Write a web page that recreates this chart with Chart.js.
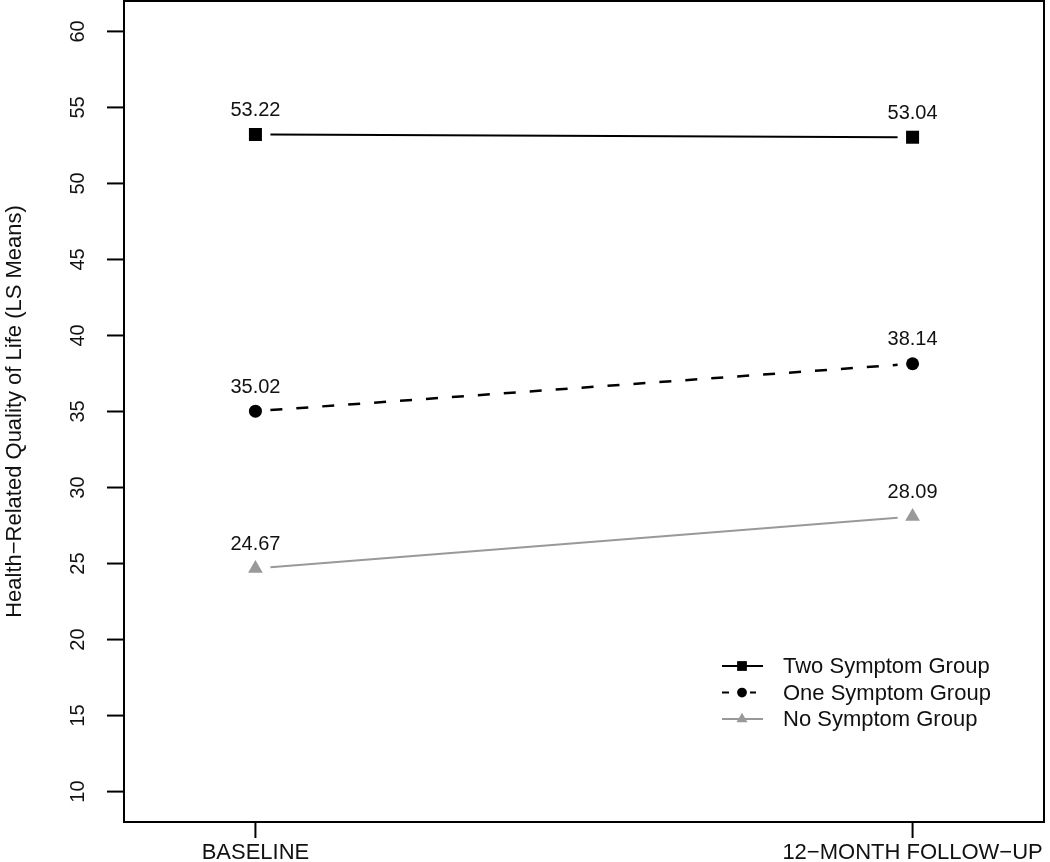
<!DOCTYPE html>
<html>
<head>
<meta charset="utf-8">
<script src="https://cdn.jsdelivr.net/npm/chart.js@4/dist/chart.umd.min.js"></script>
<style>
  body { margin: 0; background: #fff; }
  canvas { display: block; }
</style>
</head>
<body>
<canvas id="myChart" width="1050" height="862"></canvas>
<script>
const categories = ['BASELINE', '12\u2212MONTH FOLLOW\u2212UP'];
const twoSymptom = [53.22, 53.04];
const oneSymptom = [35.02, 38.14];
const noSymptom = [24.67, 28.09];
const yTicks = [10, 15, 20, 25, 30, 35, 40, 45, 50, 55, 60];
const yTitle = 'Health\u2212Related Quality of Life (LS Means)';

const FONT = '"Liberation Sans", Arial, Helvetica, sans-serif';

function toPoints(values) {
    return values.map((v, i) => ({ x: i + 1, y: v }));
}

const datasets = [
    { label: 'Two Symptom Group', data: toPoints(twoSymptom), color: '#000', dash: [], style: 'rect', radius: 9.2 },
    { label: 'One Symptom Group', data: toPoints(oneSymptom), color: '#000', dash: [12, 14], style: 'circle', radius: 6.5 },
    { label: 'No Symptom Group', data: toPoints(noSymptom), color: '#999', dash: [], style: 'triangle', radius: 8.5 }
];

// lines with a gap round each marker, like R type="b"
const gapLines = {
    id: 'gapLines',
    beforeDatasetsDraw(chart) {
        const { ctx, scales: { x, y } } = chart;
        const gap = 15;
        datasets.forEach(ds => {
            for (let i = 0; i < ds.data.length - 1; i++) {
                const x1 = x.getPixelForValue(ds.data[i].x), y1 = y.getPixelForValue(ds.data[i].y);
                const x2 = x.getPixelForValue(ds.data[i + 1].x), y2 = y.getPixelForValue(ds.data[i + 1].y);
                const len = Math.hypot(x2 - x1, y2 - y1);
                const ux = (x2 - x1) / len, uy = (y2 - y1) / len;
                ctx.save();
                ctx.strokeStyle = ds.color;
                ctx.lineWidth = ds.dash.length ? 2.5 : 2;
                ctx.setLineDash(ds.dash);
                ctx.beginPath();
                ctx.moveTo(x1 + ux * gap, y1 + uy * gap);
                ctx.lineTo(x2 - ux * gap, y2 - uy * gap);
                ctx.stroke();
                ctx.restore();
            }
        });
    },
    afterDraw(chart) {
        const { ctx, chartArea: a, scales: { x, y } } = chart;
        ctx.save();
        // box
        ctx.strokeStyle = '#000';
        ctx.lineWidth = 2;
        ctx.strokeRect(a.left, a.top, a.right - a.left, a.bottom - a.top);

        // y ticks and rotated labels
        ctx.fillStyle = '#111';
        ctx.font = '20px ' + FONT;
        yTicks.forEach(t => {
            const py = y.getPixelForValue(t);
            ctx.beginPath();
            ctx.moveTo(a.left - 17, py);
            ctx.lineTo(a.left, py);
            ctx.stroke();
            ctx.save();
            ctx.translate(78, py);
            ctx.rotate(-Math.PI / 2);
            ctx.textAlign = 'center';
            ctx.textBaseline = 'middle';
            ctx.fillText(String(t), 0, 0);
            ctx.restore();
        });

        // x ticks and labels
        ctx.font = '22px ' + FONT;
        ctx.textAlign = 'center';
        ctx.textBaseline = 'middle';
        categories.forEach((c, i) => {
            const px = x.getPixelForValue(i + 1);
            ctx.beginPath();
            ctx.moveTo(px, a.bottom);
            ctx.lineTo(px, a.bottom + 16);
            ctx.stroke();
            ctx.fillText(c, px, 853);
        });

        // y title
        ctx.save();
        ctx.translate(15, (a.top + a.bottom) / 2);
        ctx.rotate(-Math.PI / 2);
        ctx.fillText(yTitle, 0, 0);
        ctx.restore();

        // value labels
        ctx.font = '20px ' + FONT;
        datasets.forEach(ds => {
            ds.data.forEach(p => {
                ctx.fillText(p.y.toFixed(2), x.getPixelForValue(p.x), y.getPixelForValue(p.y) - 24);
            });
        });

        // legend
        const lx = 722, rowY = [666, 692.5, 719];
        ctx.font = '22px ' + FONT;
        ctx.textAlign = 'left';
        datasets.forEach((ds, i) => {
            const ly = rowY[i];
            ctx.strokeStyle = ds.color;
            ctx.lineWidth = 2;
            ctx.beginPath();
            if (ds.dash.length) {
                ctx.moveTo(lx, ly); ctx.lineTo(lx + 7, ly);
                ctx.moveTo(lx + 28, ly); ctx.lineTo(lx + 34, ly);
            } else {
                ctx.moveTo(lx, ly); ctx.lineTo(lx + 41, ly);
            }
            ctx.stroke();
            ctx.fillStyle = ds.color;
            Chart.helpers.drawPoint(ctx, { pointStyle: ds.style, radius: ds.radius * 0.75, borderWidth: 0 }, lx + 20, ly);
            ctx.fillStyle = '#111';
            ctx.fillText(ds.label, 783, ly + 1);
        });
        ctx.restore();
    }
};

new Chart(document.getElementById('myChart').getContext('2d'), {
    type: 'line',
    data: {
        datasets: datasets.map(ds => ({
            label: ds.label,
            data: ds.data,
            showLine: false,
            pointStyle: ds.style,
            pointRadius: ds.radius,
            pointBackgroundColor: ds.color,
            pointBorderColor: ds.color,
            pointBorderWidth: 0
        }))
    },
    options: {
        responsive: false,
        animation: false,
        layout: { autoPadding: false, padding: { left: 124, top: 1, right: 6, bottom: 40 } },
        scales: {
            x: { type: 'linear', min: 0.8, max: 2.2, display: false },
            y: { type: 'linear', min: 8, max: 62, display: false }
        },
        plugins: {
            legend: { display: false },
            tooltip: { enabled: false }
        }
    },
    plugins: [gapLines]
});
</script>
</body>
</html>
